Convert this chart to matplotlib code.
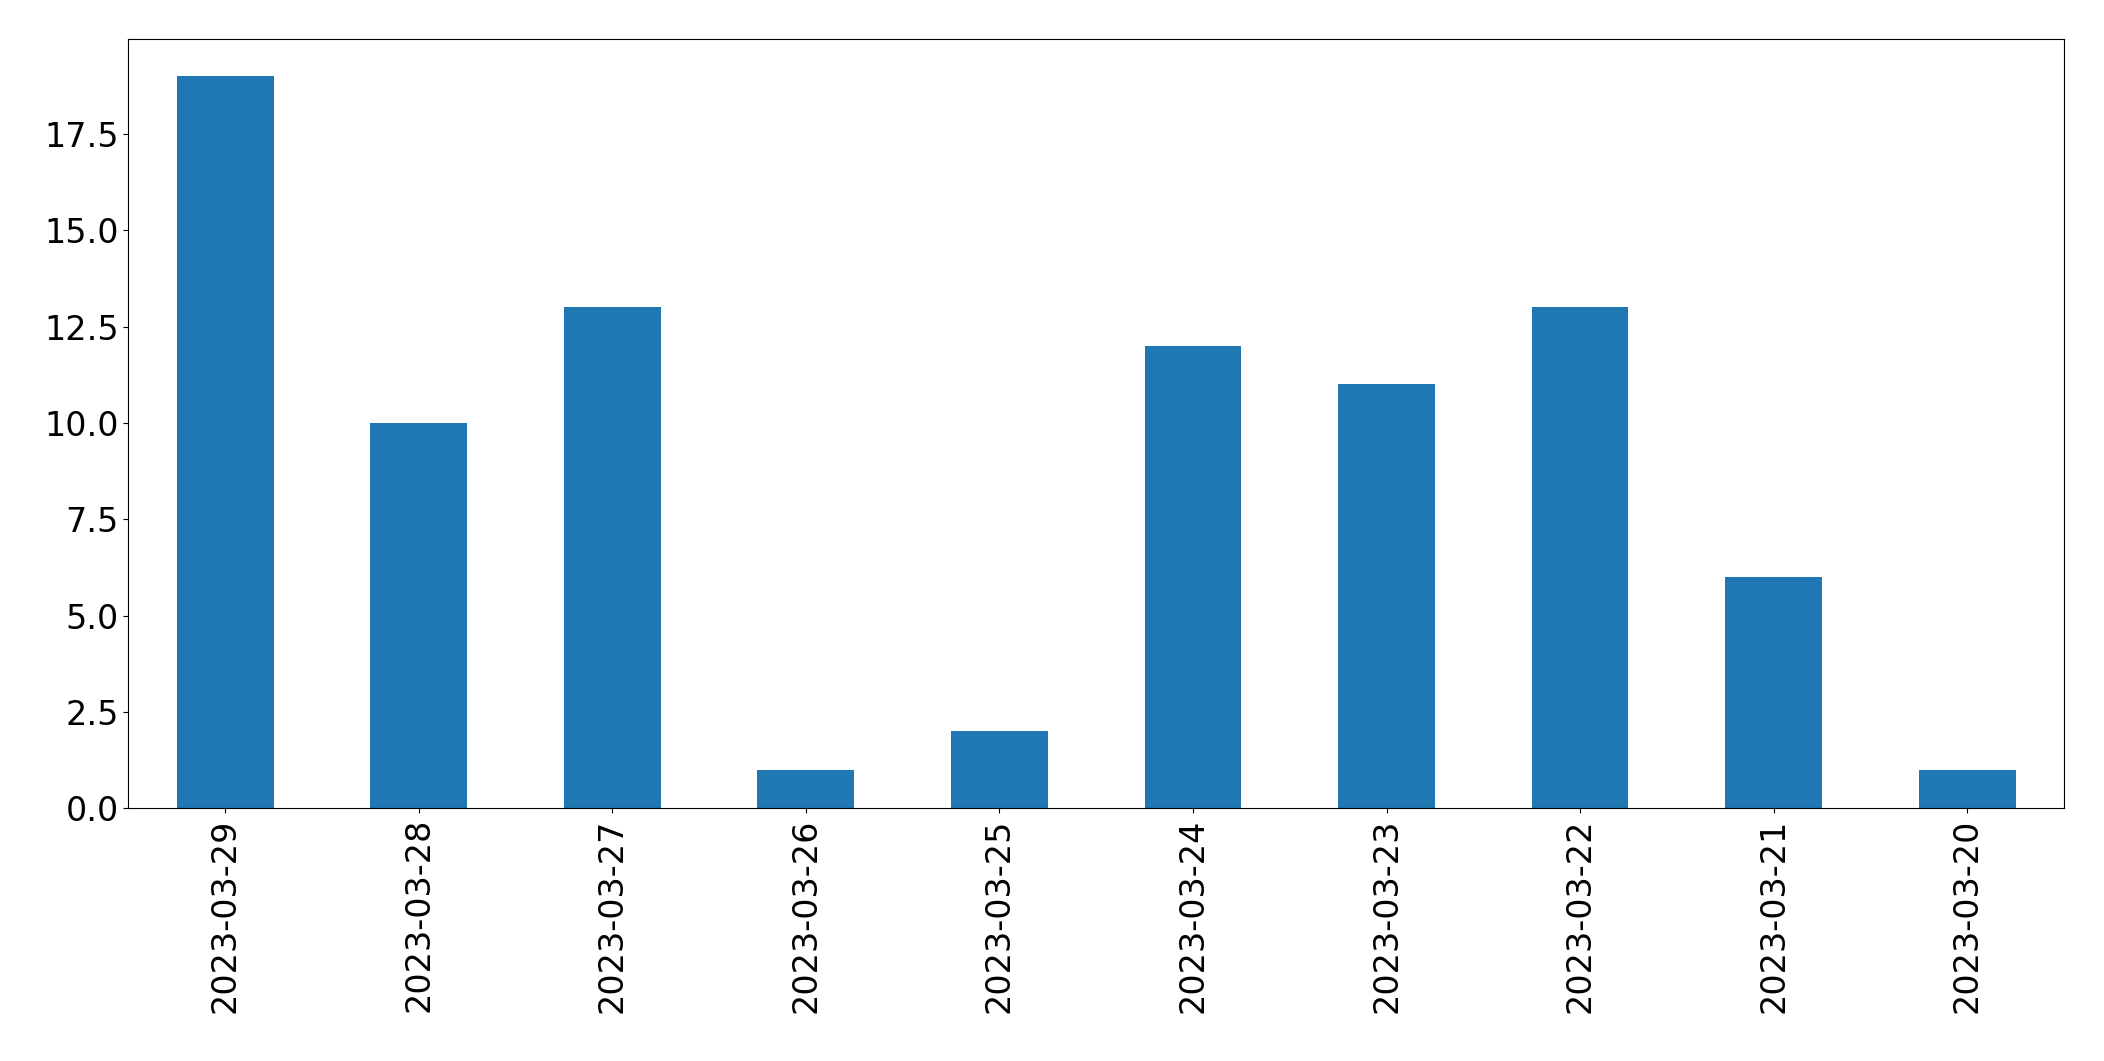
import matplotlib
matplotlib.use("Agg")
import matplotlib.pyplot as plt

dates = ["2023-03-29","2023-03-28","2023-03-27","2023-03-26","2023-03-25",
         "2023-03-24","2023-03-23","2023-03-22","2023-03-21","2023-03-20"]
counts = [19, 10, 13, 1, 2, 12, 11, 13, 6, 1]

fig = plt.figure(figsize=(21.04, 10.61), dpi=100)
ax = fig.add_axes([0.061, 0.238, 0.92, 0.725])
x = range(len(dates))
ax.bar(x, counts, width=0.5, color="#1f77b4")
ax.set_xlim(-0.5, len(dates) - 0.5)
ax.set_ylim(0, 19.95)
ax.set_xticks(list(x))
ax.set_xticklabels(dates, rotation=90)
ax.tick_params(labelsize=24)
fig.savefig("out.png", dpi=100)
